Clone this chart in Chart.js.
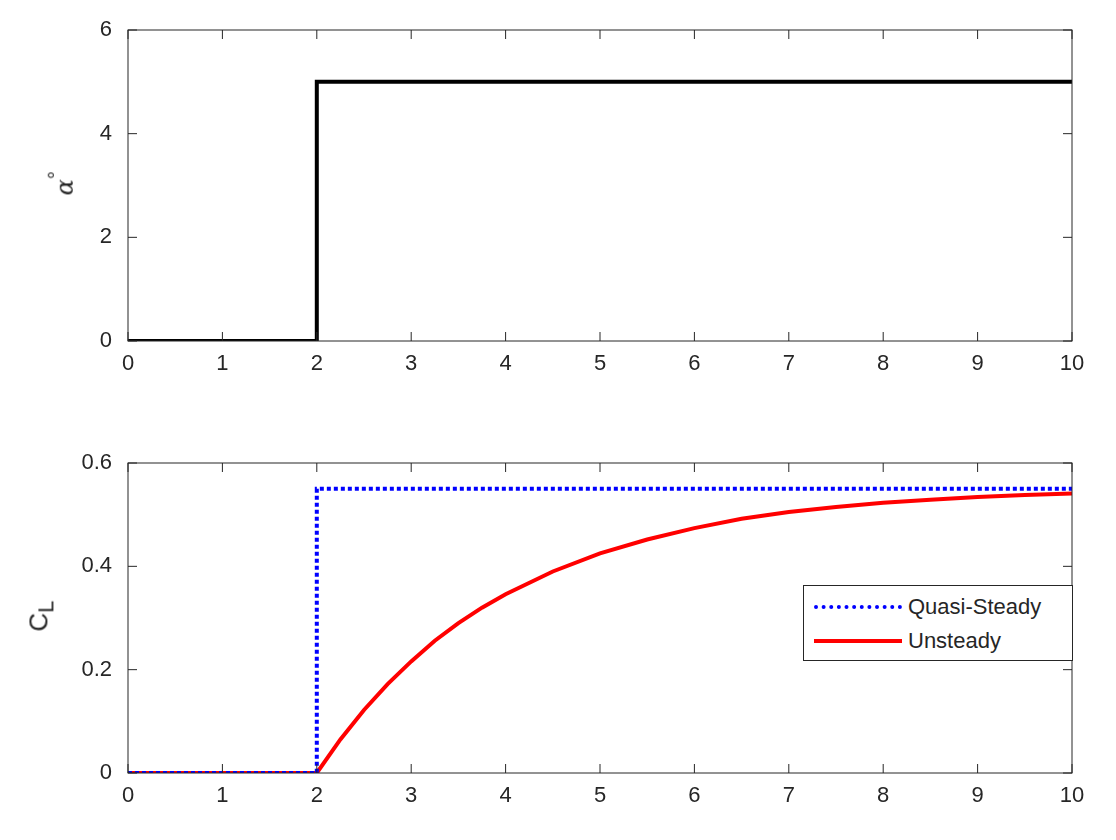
<!DOCTYPE html>
<html><head><meta charset="utf-8">
<script src="https://cdn.jsdelivr.net/npm/chart.js@4"></script>
<style>
body{margin:0;background:#fff;width:1116px;height:840px;position:relative;overflow:hidden;font-family:"Liberation Sans",Arial,sans-serif;color:#262626}
.c{position:absolute;left:0;width:1116px;height:400px}
.lab{position:absolute;font-size:26px;transform:rotate(-90deg);transform-origin:center}
#legend{position:absolute;left:803px;top:585px;width:268px;height:74px;border:1px solid #262626;background:#fff;font-size:22px}
#legend div{position:absolute;left:10px;display:flex;align-items:center}
</style></head><body>
<div class="c" style="top:0"><canvas id="top"></canvas></div>
<div class="c" style="top:433px"><canvas id="bot"></canvas></div>
<div class="lab" style="left:50px;top:166px"><i style="font-family:'DejaVu Serif',serif;font-size:24px">α</i><sup style="font-size:20px">°</sup></div>
<div class="lab" style="left:26px;top:598px">C<sub style="font-size:22px">L</sub></div>
<div id="legend">
  <div style="top:8px"><span style="display:inline-block;width:88px;border-top:4px dotted #0000ff;margin-right:6px"></span>Quasi-Steady</div>
  <div style="top:42px"><span style="display:inline-block;width:88px;border-top:4px solid #ff0000;margin-right:6px"></span>Unsteady</div>
</div>
<script>
// values
const alphaT = [0, 2, 2, 10];
const alphaDeg = [0, 0, 5, 5];
const qsT = [0, 2, 2, 10];
const qsCL = [0, 0, 0.55, 0.55];
const unT = [0, 2, 2.25, 2.5, 2.75, 3, 3.25, 3.5, 3.75, 4, 4.5, 5, 5.5, 6, 6.5, 7, 7.5, 8, 8.5, 9, 9.5, 10];
const unCL = [0, 0, 0.065, 0.122, 0.172, 0.216, 0.256, 0.29, 0.32, 0.346, 0.39, 0.425, 0.452, 0.474, 0.492, 0.505, 0.515, 0.523, 0.529, 0.534, 0.538, 0.541];

const pts = (xs, ys) => xs.map((x, i) => ({x, y: ys[i]}));
const ink = '#262626';

// MATLAB style: box plus inward ticks
const boxTicks = {
  id: 'boxTicks',
  afterDraw(c) {
    const {ctx, chartArea: a, scales} = c;
    ctx.save();
    ctx.strokeStyle = ink; ctx.lineWidth = 1;
    ctx.strokeRect(a.left, a.top, a.right - a.left, a.bottom - a.top);
    ctx.beginPath();
    scales.x.ticks.forEach(t => {
      const p = scales.x.getPixelForValue(t.value);
      ctx.moveTo(p, a.bottom); ctx.lineTo(p, a.bottom - 9);
      ctx.moveTo(p, a.top); ctx.lineTo(p, a.top + 9);
    });
    scales.y.ticks.forEach(t => {
      const p = scales.y.getPixelForValue(t.value);
      ctx.moveTo(a.left, p); ctx.lineTo(a.left + 9, p);
      ctx.moveTo(a.right, p); ctx.lineTo(a.right - 9, p);
    });
    ctx.stroke();
    ctx.restore();
  }
};

function opts(ymax, ystep, xh) {
  return {
    responsive: true, maintainAspectRatio: false, animation: false,
    layout: {padding: {top: 30, right: 44, left: 0, bottom: 0}},
    plugins: {legend: {display: false}, tooltip: {enabled: false}},
    scales: {
      x: {type: 'linear', min: 0, max: 10,
          ticks: {stepSize: 1, color: ink, font: {size: 22, family: 'Liberation Sans'}, maxRotation: 0, padding: 2},
          grid: {display: false}, border: {display: false},
          afterFit: s => { s.height = xh; }},
      y: {min: 0, max: ymax,
          ticks: {stepSize: ystep, color: ink, font: {size: 22, family: 'Liberation Sans'},
                  callback: v => String(+v.toFixed(2)), padding: 8},
          grid: {display: false}, border: {display: false},
          afterFit: s => { s.width = 128; }}
    }
  };
}

new Chart(document.getElementById('top'), {
  type: 'scatter',
  data: {datasets: [{data: pts(alphaT, alphaDeg), showLine: true, borderColor: '#000', borderWidth: 4, pointRadius: 0}]},
  options: opts(6, 2, 59),
  plugins: [boxTicks]
});

new Chart(document.getElementById('bot'), {
  type: 'scatter',
  data: {datasets: [
    {label: 'Quasi-Steady', data: pts(qsT, qsCL), showLine: true, borderColor: '#0000ff', borderWidth: 4, borderDash: [4, 3], pointRadius: 0},
    {label: 'Unsteady', data: pts(unT, unCL), showLine: true, borderColor: '#ff0000', borderWidth: 4, pointRadius: 0, tension: 0}
  ]},
  options: opts(0.6, 0.2, 60),
  plugins: [boxTicks]
});
</script>
</body></html>
